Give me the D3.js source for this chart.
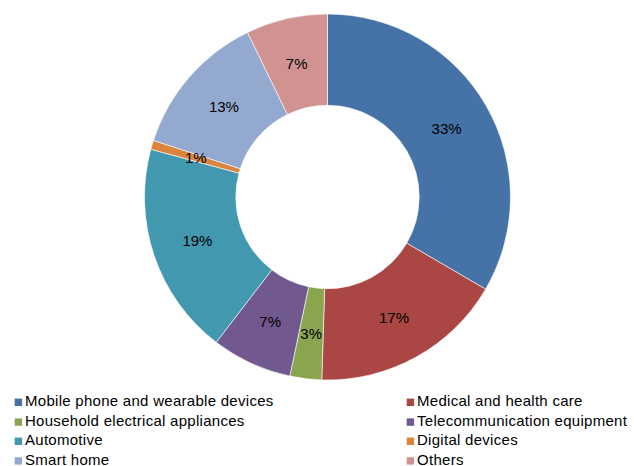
<!DOCTYPE html>
<html>
<head>
<meta charset="utf-8">
<script src="https://cdn.jsdelivr.net/npm/d3@7"></script>
<style>
  html, body { margin: 0; padding: 0; background: #fff; }
  svg { display: block; font-family: "Liberation Sans", Arial, sans-serif; }
</style>
</head>
<body>
<svg id="chart" width="634" height="466"></svg>
<script>
// Application segments (share of total, %)
const categories = [
  "Mobile phone and wearable devices",
  "Medical and health care",
  "Household electrical appliances",
  "Telecommunication equipment",
  "Automotive",
  "Digital devices",
  "Smart home",
  "Others"
];
const shares = [33.4, 17.1, 2.8, 7.1, 18.8, 0.8, 12.8, 7.2];
const colors = ["#4572A7", "#AA4643", "#89A54E", "#71588F", "#4198AF", "#DB843D", "#93A9CF", "#D19392"];

const data = categories.map((name, i) => ({ name, value: shares[i] }));

const svg = d3.select("#chart");
const cx = 327.5, cy = 197, outerR = 183, innerR = 91.7;

const color = d3.scaleOrdinal().domain(categories).range(colors);

const pie = d3.pie().sort(null).value(d => d.value);
const arc = d3.arc().innerRadius(innerR).outerRadius(outerR);

const arcs = pie(data);
const g = svg.append("g").attr("transform", `translate(${cx},${cy})`);

g.selectAll("path.slice")
  .data(arcs)
  .join("path")
  .attr("class", "slice")
  .attr("d", arc)
  .attr("fill", d => color(d.data.name))
  .attr("stroke", "#fff")
  .attr("stroke-width", 0.6);

g.selectAll("text.pct")
  .data(arcs)
  .join("text")
  .attr("class", "pct")
  .attr("transform", d => `translate(${arc.centroid(d)})`)
  .attr("text-anchor", "middle")
  .attr("dy", "0.36em")
  .attr("font-size", 15)
  .attr("fill", "#000")
  .text(d => Math.round(d.data.value) + "%");

// Legend: two columns, four rows (y = text baseline)
const legend = svg.append("g");
const colX = [14.7, 406.7];
const rowY = [406, 425.8, 445, 464.6];
const items = legend.selectAll("g.item")
  .data(categories)
  .join("g")
  .attr("class", "item")
  .attr("transform", (d, i) => `translate(${colX[i % 2]},${rowY[Math.floor(i / 2)]})`);

items.append("rect")
  .attr("x", 0).attr("y", -7.4)
  .attr("width", 7.4).attr("height", 7.4)
  .attr("fill", d => color(d));

items.append("text")
  .attr("x", 10.3)
  .attr("font-size", 15)
  .attr("letter-spacing", 0.28)
  .attr("fill", "#000")
  .text(d => d);
</script>
</body>
</html>
